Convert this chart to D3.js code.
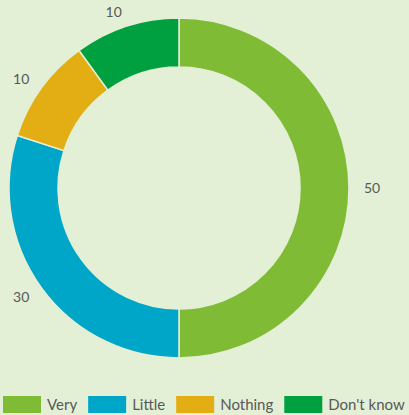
<!DOCTYPE html>
<html>
<head>
<meta charset="utf-8">
<script src="https://cdn.jsdelivr.net/npm/d3@7"></script>
<style>
  html, body { margin: 0; padding: 0; background: #e4f0d6; }
  svg { display: block; }
  text { font-family: Lato, "Open Sans", sans-serif; fill: #585858; }
</style>
</head>
<body>
<svg id="chart" width="409" height="415"></svg>
<script>
// data
const categories = ['Very', 'Little', 'Nothing', "Don't know"];
const values = [50, 30, 10, 10];
const colors = ['#80bb35', '#00a6c8', '#e2ae14', '#00a040'];

const W = 409, H = 415;
const cx = 179, cy = 188;
const outerR = 170, innerR = 121, labelR = 185;

const svg = d3.select('#chart');
const data = categories.map((c, i) => ({ name: c, value: values[i], color: colors[i] }));

const pie = d3.pie().value(d => d.value).sort(null);
const arc = d3.arc().innerRadius(innerR).outerRadius(outerR);
const labelArc = d3.arc().innerRadius(labelR).outerRadius(labelR);

const g = svg.append('g').attr('transform', `translate(${cx},${cy})`);
const arcs = pie(data);

g.selectAll('path.slice')
  .data(arcs)
  .join('path')
  .attr('class', 'slice')
  .attr('d', arc)
  .attr('fill', d => d.data.color)
  .attr('stroke', '#e4f0d6')
  .attr('stroke-width', 1.5);

// labels sit outside the ring, anchored away from the centre
const midAngle = d => (d.startAngle + d.endAngle) / 2;
g.selectAll('text.lbl')
  .data(arcs)
  .join('text')
  .attr('class', 'lbl')
  .attr('transform', d => `translate(${labelArc.centroid(d)})`)
  .attr('text-anchor', d => midAngle(d) < Math.PI ? 'start' : 'end')
  .attr('dy', '0.35em')
  .style('font-size', '14px')
  .text(d => d.data.value);

// legend
const legend = svg.append('g').attr('class', 'legend');
let lx = 3;
data.forEach(d => {
  const item = legend.append('g').attr('transform', `translate(${lx},396)`);
  item.append('rect').attr('width', 38).attr('height', 17).attr('fill', d.color);
  const t = item.append('text')
    .attr('x', 44).attr('y', 14)
    .style('font-size', '15px')
    .text(d.name);
  lx += 44 + t.node().getComputedTextLength() + 11;
});
</script>
</body>
</html>
